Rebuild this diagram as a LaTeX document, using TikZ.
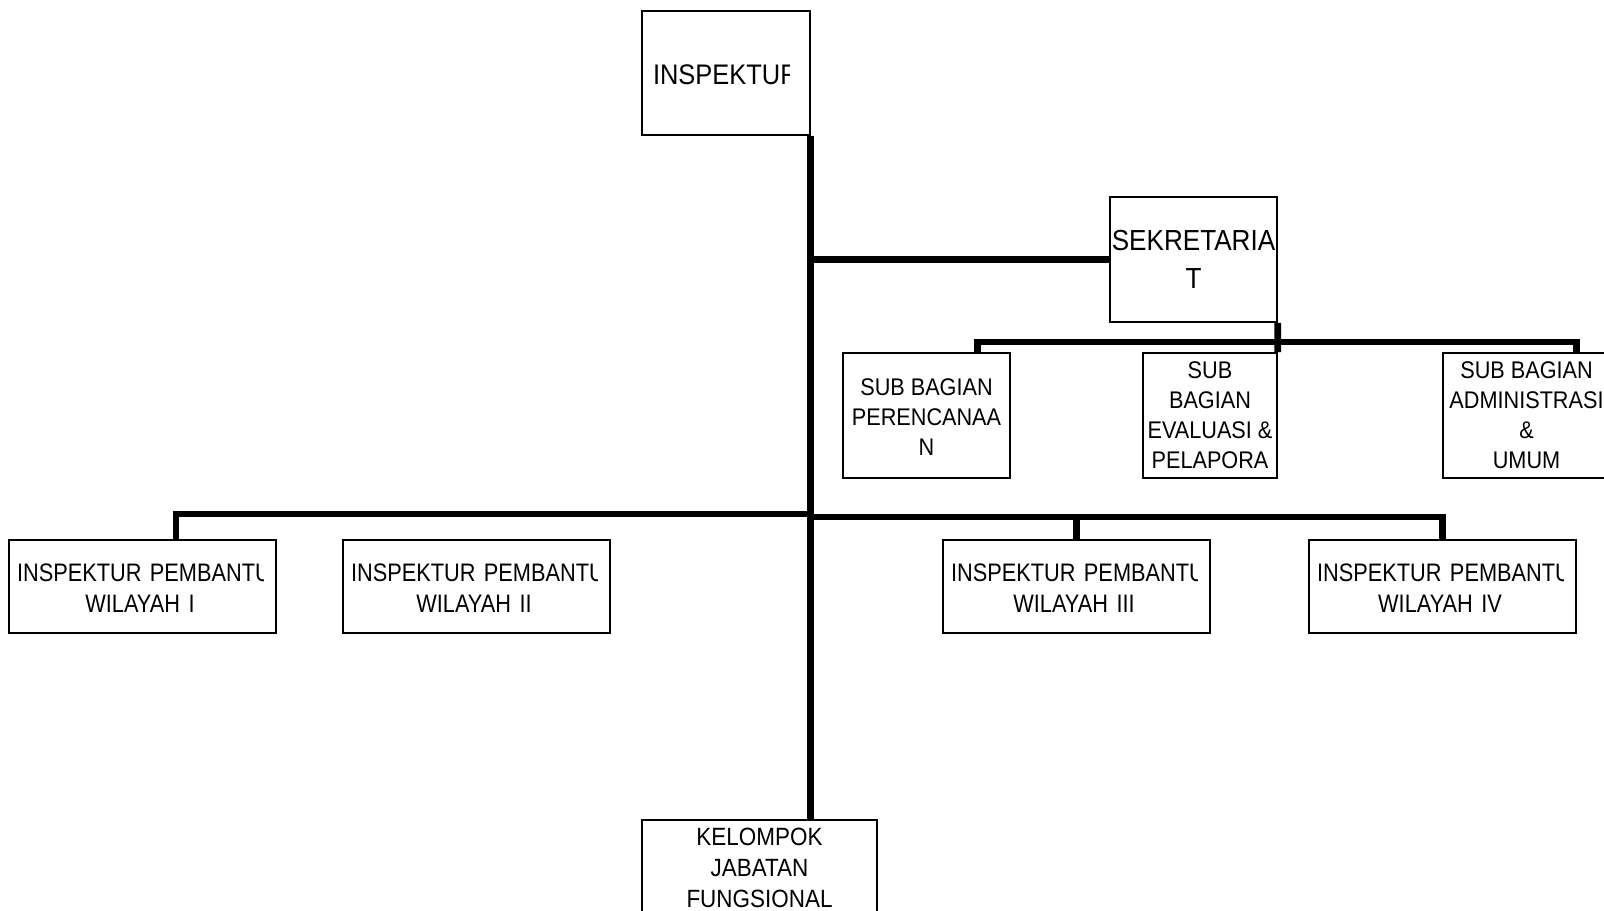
\documentclass[tikz,border=0pt]{standalone}
\usepackage{fontspec}
\setmainfont{Liberation Sans}[FakeStretch=0.9]
\newfontfamily\narrowfont{Liberation Sans}[FakeStretch=0.86]
\usetikzlibrary{calc}
\hyphenpenalty=10000

% clip to the text area of a box (left and right inset)
\newcommand{\cliparea}[3]{\clip ($(#1.north west)+(#2,0)$) rectangle ($(#1.south east)+(-#3,0)$);}

\begin{document}
\begin{tikzpicture}[
    x=0.02cm, y=-0.02cm,
    unit/.style={rectangle, draw=black, line width=0.9pt, inner sep=0pt,
                 minimum width=3.34cm, minimum height=2.5cm},
    wilayah/.style={unit, minimum width=5.34cm, minimum height=1.86cm},
    boxtext/.style={inner sep=0pt, align=center,
                    font=\fontsize{13.7}{17.1}\selectfont},
    bigtext/.style={boxtext, font=\fontsize{14.2}{17.6}\selectfont},
    link/.style={line width=3.8pt}
]
\useasboundingbox (0,0) rectangle (1604,911);

% boxes
\node[unit, minimum width=3.36cm, minimum height=2.48cm] (insp) at (726,73) {};
\node[unit] (sekr) at (1193.5,259.5) {};
\node[unit] (perenc) at (926.5,415.5) {};
\node[unit, minimum width=2.68cm] (eval) at (1210,415.5) {};
\node[unit] (admin) at (1526.5,415.5) {};
\node[wilayah] (ip1) at (142.5,586.5) {};
\node[wilayah] (ip2) at (476.5,586.5) {};
\node[wilayah] (ip3) at (1076.5,586.5) {};
\node[wilayah] (ip4) at (1442.5,586.5) {};
\node[unit, minimum width=4.7cm, minimum height=1.92cm] (kjf) at (759.5,868) {};

% texts
\begin{scope}
  \cliparea{insp}{11}{21}
  \node[boxtext, font=\fontsize{16.1}{18}\selectfont, text width=2.82cm]
       (insptxt) at ($(insp.center)+(-2.5,2)$) {INSPEKTUR};
\end{scope}
\foreach \w/\r in {ip1/I, ip2/II, ip3/III, ip4/IV} {
  \begin{scope}
    \cliparea{\w}{8}{13}
    \node[bigtext, font=\narrowfont\fontsize{14.4}{17.6}\selectfont, text width=4.92cm]
         (\w txt) at ($(\w.center)+(-2.5,2)$)
         {INSPEKTUR~PEMBANTU\\WILAYAH \r};
  \end{scope}
}
\node[boxtext, font=\fontsize{16.5}{21.6}\selectfont] (sekrtxt) at (sekr.center) {SEKRETARIA\\T};
\node[boxtext] (perenctxt) at ($(perenc.center)+(0,2)$) {SUB BAGIAN\\PERENCANAA\\N};
\node[boxtext] (evaltxt) at (eval.center) {SUB\\BAGIAN\\EVALUASI \&\\PELAPORA};
\node[boxtext] (admintxt) at (admin.center) {SUB BAGIAN\\ADMINISTRASI\\\&\\UMUM};
\node[bigtext] (kjftxt) at (kjf.center) {KELOMPOK\\JABATAN\\FUNGSIONAL};

% connectors
\coordinate (lbus) at (810,514);
\coordinate (rbus) at (810,517);
\coordinate (sbus) at (1277,342);
\draw[link] (insp.south east) -- (insp.south east |- kjf.north);
\draw[link] (sekr.west) -- (sekr.west -| insp.south east);
\draw[link] (sekr.south east) -- (eval.north east);
\draw[link] ($(perenc.north east)+(-33,0)$) |- (sbus) -| ($(admin.north west)+(134,0)$);
\draw[link] ($(ip1.north)+(33.5,0)$) |- (lbus);
\draw[link] ($(ip2.north)+(31.5,0)$) -- ($(ip2.north)+(31.5,0)$ |- lbus);
\draw[link] (ip4.north) |- (rbus);
\draw[link] (ip3.north) -- (ip3.north |- rbus);
\end{tikzpicture}
\end{document}
